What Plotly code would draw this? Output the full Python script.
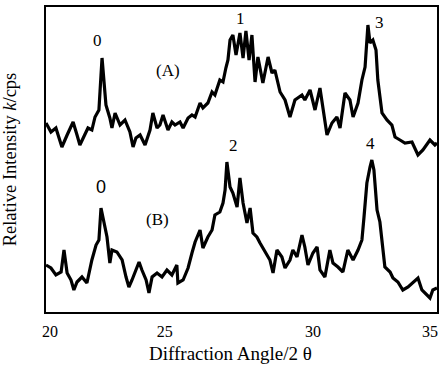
import plotly.graph_objects as go

# Pattern (A): diffraction angle (2θ, deg) and relative intensity (arb. units)
angle_a = [20.00, 20.19, 20.38, 20.61, 20.81, 21.04, 21.19, 21.30, 21.61, 21.76,
           21.88, 22.03, 22.11, 22.15, 22.22, 22.30, 22.45, 22.53, 22.65, 22.84,
           23.03, 23.22, 23.34, 23.45, 23.61, 23.80, 23.99, 24.10, 24.26, 24.37,
           24.49, 24.68, 24.83, 24.95, 25.14, 25.26, 25.45, 25.60, 25.72, 25.91,
           26.02, 26.21, 26.37, 26.48, 26.67, 26.79, 26.90, 26.98, 27.06, 27.17,
           27.29, 27.44, 27.56, 27.67, 27.79, 27.90, 28.02, 28.13, 28.32, 28.52,
           28.67, 28.78, 28.98, 29.17, 29.36, 29.55, 29.82, 29.93, 30.13, 30.32,
           30.51, 30.63, 30.78, 30.97, 31.16, 31.28, 31.47, 31.66, 31.78, 31.97,
           32.12, 32.24, 32.35, 32.43, 32.54, 32.66, 32.73, 32.89, 33.08, 33.27,
           33.39, 33.58, 33.77, 34.04, 34.27, 34.46, 34.73, 34.92, 35.00]
intensity_a = [189, 180, 184, 165, 177, 190, 177, 167, 184, 182,
               195, 202, 237, 254, 232, 207, 194, 184, 199, 187,
               192, 180, 165, 174, 177, 167, 182, 199, 184, 187,
               197, 182, 190, 187, 190, 184, 194, 197, 195, 209,
               204, 209, 220, 217, 232, 230, 244, 252, 272, 277,
               257, 279, 254, 281, 252, 277, 230, 255, 229, 255,
               239, 242, 220, 212, 195, 212, 217, 212, 222, 202,
               224, 202, 177, 189, 195, 184, 219, 212, 195, 209,
               232, 245, 287, 269, 272, 262, 232, 199, 192, 187,
               175, 172, 169, 170, 157, 162, 172, 167, 169]

# Pattern (B)
angle_b = [20.00, 20.19, 20.38, 20.58, 20.69, 20.81, 20.96, 21.07, 21.19, 21.38,
           21.57, 21.76, 21.92, 22.03, 22.11, 22.22, 22.34, 22.45, 22.53, 22.72,
           22.92, 23.07, 23.18, 23.30, 23.45, 23.57, 23.68, 23.84, 23.95, 24.07,
           24.26, 24.45, 24.64, 24.83, 25.02, 25.06, 25.26, 25.45, 25.60, 25.72,
           25.91, 26.02, 26.21, 26.37, 26.48, 26.67, 26.79, 26.87, 26.94, 27.06,
           27.17, 27.33, 27.44, 27.56, 27.71, 27.83, 27.94, 28.09, 28.21, 28.40,
           28.59, 28.71, 28.86, 29.05, 29.17, 29.36, 29.47, 29.63, 29.82, 29.93,
           30.05, 30.24, 30.40, 30.51, 30.70, 30.89, 31.01, 31.20, 31.39, 31.58,
           31.78, 31.97, 32.12, 32.20, 32.31, 32.43, 32.50, 32.58, 32.70, 32.81,
           32.93, 33.00, 33.20, 33.31, 33.50, 33.69, 33.89, 34.08, 34.27, 34.42,
           34.61, 34.73, 34.84, 35.00]
intensity_b = [47, 44, 37, 40, 62, 39, 32, 22, 30, 35,
               29, 52, 67, 72, 104, 90, 75, 49, 62, 60,
               52, 35, 25, 32, 42, 50, 42, 32, 19, 35,
               39, 35, 42, 37, 47, 29, 32, 44, 59, 70,
               82, 64, 75, 82, 97, 100, 109, 122, 150, 125,
               119, 105, 134, 109, 89, 104, 79, 75, 69, 60,
               52, 39, 62, 55, 44, 52, 62, 55, 77, 65,
               47, 59, 65, 42, 35, 62, 49, 45, 40, 62,
               52, 62, 72, 95, 129, 145, 152, 142, 102, 90,
               62, 45, 40, 34, 30, 22, 25, 29, 34, 22,
               17, 14, 22, 24]

# Tick labels as placed in the reference (drawn slightly inside the frame ends)
tick_values = [20.15, 24.56, 30.24, 34.73]
tick_labels = ["20", "25", "30", "35"]

# Peak labels: text, angle, intensity
peak_text = ["0", "1", "3", "2", "4"]
peak_angle = [21.99, 27.48, 32.81, 27.21, 32.43]
peak_level = [272, 294, 290, 167, 169]

serif = "Liberation Serif, Times New Roman, serif"

fig = go.Figure()
fig.add_trace(go.Scatter(x=angle_a, y=intensity_a, mode="lines",
                         line=dict(color="black", width=3.2), showlegend=False))
fig.add_trace(go.Scatter(x=angle_b, y=intensity_b, mode="lines",
                         line=dict(color="black", width=3.2), showlegend=False))

for t, xa, ya in zip(peak_text, peak_angle, peak_level):
    fig.add_annotation(x=xa, y=ya, text=t, showarrow=False,
                       font=dict(family=serif, size=17, color="black"))
fig.add_annotation(x=22.11, y=125, text="0", showarrow=False,
                   font=dict(family="Liberation Sans, Arial, sans-serif", size=18, color="black"))
fig.add_annotation(x=24.68, y=242, text="(A)", showarrow=False,
                   font=dict(family=serif, size=17, color="black"))
fig.add_annotation(x=24.26, y=93, text="(B)", showarrow=False,
                   font=dict(family=serif, size=17, color="black"))
# x-axis title (placed as in the reference, slightly left of centre)
fig.add_annotation(xref="paper", yref="paper", x=0.473, y=-0.136,
                   xanchor="center", yanchor="middle", showarrow=False,
                   text="Diffraction Angle/2 θ",
                   font=dict(family=serif, size=19, color="black"))

fig.update_layout(
    width=445, height=367,
    margin=dict(l=46, r=8, t=7, b=55, autoexpand=False),
    paper_bgcolor="white", plot_bgcolor="white",
    font=dict(family=serif, size=16, color="black"),
    xaxis=dict(range=[20, 35], tickvals=tick_values, ticktext=tick_labels,
               ticks="", showgrid=False, zeroline=False, automargin=False,
               tickfont=dict(family=serif, size=16), ticklabelstandoff=4,
               ticklabeloverflow="allow",
               showline=True, linecolor="black", linewidth=1.6, mirror=True),
    yaxis=dict(range=[0, 305], showticklabels=False, ticks="",
               showgrid=False, zeroline=False, automargin=False,
               showline=True, linecolor="black", linewidth=1.6, mirror=True,
               title=dict(text="Relative Intensity <i>k</i>/cps", standoff=24,
                          font=dict(family=serif, size=18.5))),
)

fig.write_html("out.html", config={"displayModeBar": False},
               post_script="document.body.style.margin='0px';")
